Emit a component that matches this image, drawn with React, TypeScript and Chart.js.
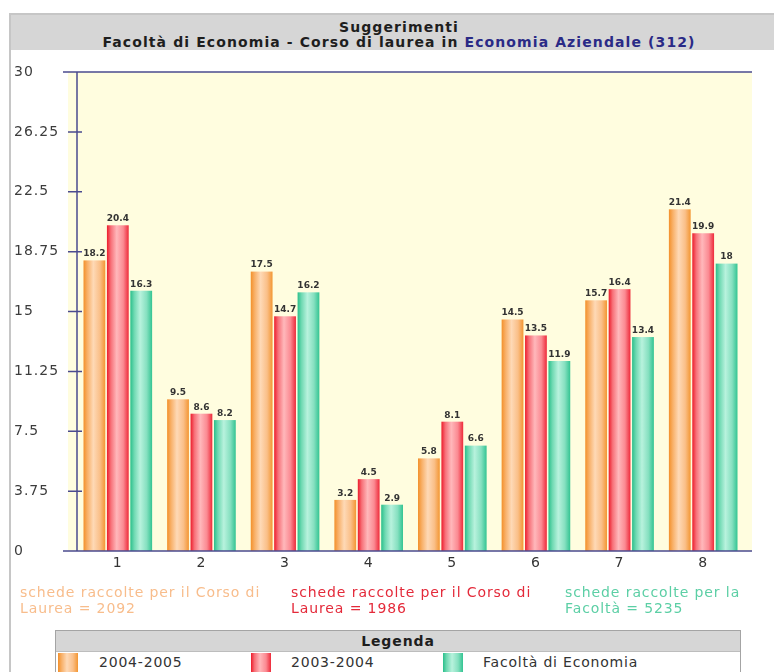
import React, { useEffect, useRef } from "react";
import { Chart, registerables } from "chart.js";

Chart.register(...registerables);

const categories = ["1", "2", "3", "4", "5", "6", "7", "8"];
const series2004_2005 = [18.2, 9.5, 17.5, 3.2, 5.8, 14.5, 15.7, 21.4];
const series2003_2004 = [20.4, 8.6, 14.7, 4.5, 8.1, 13.5, 16.4, 19.9];
const seriesFacolta = [16.3, 8.2, 16.2, 2.9, 6.6, 11.9, 13.4, 18];
const yTickLabels = ["0", "3.75", "7.5", "11.25", "15", "18.75", "22.5", "26.25", "30"];
const seriesNames = ["2004-2005", "2003-2004", "Facoltà di Economia"];

const gradStops: string[][] = [
  ["#f3902a", "#f8b068", "#fed9b6", "#fabf88", "#f39632"],
  ["#ec1c2b", "#f77078", "#ffb8bb", "#fb8a92", "#ee2a3a"],
  ["#2abf8b", "#6fd9b2", "#b8f2dd", "#86e0c0", "#33c492"],
];
const stopPos = [0, 0.18, 0.45, 0.75, 1];

const AXIS = "#4b4b8f";
const FONT = '"DejaVu Sans", Verdana, sans-serif';

const decorPlugin = {
  id: "decor",
  beforeDraw(chart: any) {
    chart.ctx.letterSpacing = "1px";
  },
  beforeDatasetsDraw(chart: any) {
    const { ctx, chartArea } = chart;
    ctx.save();
    ctx.fillStyle = "#fffddf";
    ctx.fillRect(chartArea.left - 8, chartArea.top, chartArea.right - chartArea.left + 15, chartArea.bottom - chartArea.top);
    ctx.restore();
  },
  afterDatasetsDraw(chart: any) {
    const { ctx, chartArea } = chart;
    const yScale = chart.scales.y;
    chart.data.datasets.forEach((ds: any, di: number) => {
      const meta = chart.getDatasetMeta(di);
      meta.data.forEach((bar: any, i: number) => {
        const p = bar.getProps(["x", "y", "base", "width"], true);
        const left = p.x - p.width / 2;
        const g = ctx.createLinearGradient(left, 0, left + p.width, 0);
        gradStops[di].forEach((c, k) => g.addColorStop(stopPos[k], c));
        ctx.save();
        ctx.fillStyle = g;
        ctx.fillRect(left, p.y, p.width, p.base - p.y);
        ctx.restore();
        ctx.save();
        ctx.letterSpacing = "0px";
        ctx.font = "bold 9px " + FONT;
        ctx.fillStyle = "#333";
        ctx.textAlign = "center";
        ctx.textBaseline = "bottom";
        ctx.fillText(String(ds.data[i]), p.x, p.y - 2);
        ctx.restore();
      });
    });
    ctx.save();
    ctx.strokeStyle = AXIS;
    ctx.lineWidth = 1.5;
    ctx.beginPath();
    const x0 = chartArea.left + 1;
    ctx.moveTo(x0, chartArea.top);
    ctx.lineTo(x0, chartArea.bottom);
    ctx.moveTo(chartArea.left - 13, chartArea.top);
    ctx.lineTo(chartArea.right + 7, chartArea.top);
    ctx.moveTo(chartArea.left - 13, chartArea.bottom);
    ctx.lineTo(chartArea.right + 7, chartArea.bottom);
    yScale.ticks.forEach((t: any) => {
      const yy = yScale.getPixelForValue(t.value);
      ctx.moveTo(x0 - 9, yy);
      ctx.lineTo(x0 + 5, yy);
    });
    ctx.stroke();
    ctx.restore();
  },
};

function ChartCanvas() {
  const ref = useRef<HTMLCanvasElement | null>(null);
  useEffect(() => {
    if (!ref.current) return;
    const chart = new Chart(ref.current, {
      type: "bar",
      data: {
        labels: categories,
        datasets: [
          { label: seriesNames[0], data: series2004_2005, backgroundColor: "rgba(0,0,0,0)" },
          { label: seriesNames[1], data: series2003_2004, backgroundColor: "rgba(0,0,0,0)" },
          { label: seriesNames[2], data: seriesFacolta, backgroundColor: "rgba(0,0,0,0)" },
        ],
      },
      options: {
        animation: false,
        responsive: true,
        maintainAspectRatio: false,
        datasets: { bar: { categoryPercentage: 0.84, barPercentage: 0.93 } },
        layout: { padding: { left: 14, top: 72, right: 29, bottom: 91 } },
        plugins: { legend: { display: false }, tooltip: { enabled: false }, title: { display: false } },
        scales: {
          x: {
            offset: true,
            grid: { display: false, drawTicks: false },
            border: { display: false },
            ticks: { color: "#333", font: { family: FONT, size: 14 }, padding: 4 },
            afterFit: (s: any) => { s.height = 30; },
          },
          y: {
            min: 0,
            max: 30,
            grid: { display: false, drawTicks: false },
            border: { display: false },
            ticks: {
              stepSize: 3.75,
              crossAlign: "far",
              color: "#3c3c3c",
              font: { family: FONT, size: 14 },
              callback: (_v: any, i: number) => yTickLabels[i],
            },
            afterFit: (s: any) => { s.width = 62; },
          },
        },
      } as any,
      plugins: [decorPlugin],
    });
    return () => chart.destroy();
  }, []);
  return <canvas ref={ref} />;
}

const swatch = (di: number): React.CSSProperties => ({
  position: "absolute",
  top: 1,
  width: 20,
  height: 20,
  background: `linear-gradient(to right, ${gradStops[di].map((c, k) => `${c} ${stopPos[k] * 100}%`).join(", ")})`,
});

const footText: React.CSSProperties = { position: "absolute", top: 584, fontSize: 14, lineHeight: "16px", letterSpacing: "0.9px", whiteSpace: "nowrap" };

export default function App() {
  return (
    <div style={{ position: "absolute", left: 0, top: 0, width: 774, height: 672, overflow: "hidden", background: "#fff", fontFamily: FONT }}>
      <div style={{ position: "absolute", left: 9, top: 13, width: 790, height: 700, border: "2px solid #c6c6c6", boxSizing: "border-box" }} />
      <div style={{ position: "absolute", left: 11, top: 15, width: 776, height: 35, background: "#d6d6d6", textAlign: "center", fontWeight: "bold", fontSize: 14, letterSpacing: "1.1px", lineHeight: "15px", paddingTop: 5, boxSizing: "border-box", color: "#1e1e1e", whiteSpace: "nowrap" }}>
        <div>Suggerimenti</div>
        <div>Facoltà di Economia - Corso di laurea in <span style={{ color: "#2a2a86" }}>Economia Aziendale (312)</span></div>
      </div>
      <div style={{ position: "absolute", left: 0, top: 0, width: 774, height: 672 }}>
        <ChartCanvas />
      </div>
      <div style={{ ...footText, left: 20, color: "#f8bd8c" }}>
        schede raccolte per il Corso di<br />Laurea = 2092
      </div>
      <div style={{ ...footText, left: 291, color: "#e42a3a" }}>
        schede raccolte per il Corso di<br />Laurea = 1986
      </div>
      <div style={{ ...footText, left: 565, color: "#5ccfa5" }}>
        schede raccolte per la<br />Facoltà = 5235
      </div>
      <div style={{ position: "absolute", left: 55, top: 630, width: 686, height: 50, border: "1px solid #a4a4a4", boxSizing: "border-box", background: "#fff" }}>
        <div style={{ height: 20, background: "#d6d6d6", textAlign: "center", fontWeight: "bold", fontSize: 14, letterSpacing: "0.9px", lineHeight: "20px", color: "#1e1e1e", borderBottom: "1px solid #bdbdbd" }}>Legenda</div>
        <div style={{ position: "relative", height: 22, fontSize: 14, letterSpacing: "0.8px", lineHeight: "21px", color: "#333", whiteSpace: "nowrap" }}>
          <div style={{ ...swatch(0), left: 2 }} />
          <div style={{ position: "absolute", left: 43 }}>{seriesNames[0]}</div>
          <div style={{ ...swatch(1), left: 195 }} />
          <div style={{ position: "absolute", left: 235 }}>{seriesNames[1]}</div>
          <div style={{ ...swatch(2), left: 387 }} />
          <div style={{ position: "absolute", left: 427 }}>{seriesNames[2]}</div>
        </div>
      </div>
    </div>
  );
}
